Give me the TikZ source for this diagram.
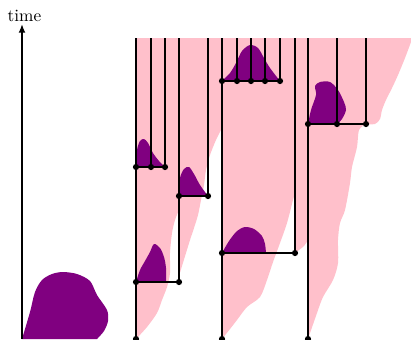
\documentclass[tikz,border=0pt]{standalone}
\usetikzlibrary{arrows.meta}
\definecolor{blobpurple}{HTML}{800080}
\definecolor{fanpink}{HTML}{FFC0CB}
\begin{document}
\begin{tikzpicture}[x=0.58pt,y=-0.58pt,
  lin/.style={line width=0.6pt, black},
  axisline/.style={line width=1pt, black, -{Latex[length=5pt,width=4pt]}},
  dot/.style={circle, fill=black, inner sep=0pt, minimum size=3.6pt},
  fan/.style={fill=fanpink, draw=none},
  blob/.style={fill=blobpurple, draw=none}]
\useasboundingbox (0,0) rectangle (411,339);

% pink fans
\fill[fan] (136,339) -- plot[smooth] coordinates {(136,339)(147,327)(157,313)(162,300)(167,287)(170,273)(170,253)(172,233)(175,220)(179,210)} -- (179,38) -- (136,38) -- cycle;
\fill[fan] (179,276) -- plot[smooth] coordinates {(179,276)(182,266)(186,253)(190,240)(194,228)(198,215)(201,200)(204,185)(206,170)(210,155)(216,140)(222,128)} -- (222,38) -- (179,38) -- cycle;
\fill[fan] (222,339) -- plot[smooth] coordinates {(222,339)(230,329)(237,320)(247,307)(260,297)(267,280)(273,262)(280,243)(287,223)(293,200)(296,190)} -- (296,38) -- (222,38) -- cycle;
\fill[fan] (295,253) -- plot[smooth] coordinates {(295,253)(299,250)(304,246)(308,240)} -- (308,38) -- (295,38) -- cycle;
\fill[fan] (308,339) -- plot[smooth] coordinates {(308,339)(317,313)(323,297)(333,280)(338,263)(338,240)(340,223)(345,210)(350,183)(352,167)(357,147)(359,130)(366,124)} -- (366,38) -- (308,38) -- cycle;
\fill[fan] (366,124) -- plot[smooth] coordinates {(366,124)(375,124)(380,119)(382,110)(386,100)(392,88)(398,75)(405,58)(411,42)} -- (411,38) -- (366,38) -- cycle;

% purple blobs
\fill[blob] (22,339) -- plot[smooth] coordinates {(22,339)(30,312)(35,292)(42,280)(52,274)(63,272)(77,274)(90,281)(97,295)(107,310)(108,321)(104,331)(97,339)} -- cycle;
\fill[blob] (136,282) -- plot[smooth] coordinates {(136,282)(140,270)(145,261)(150,252)(154,244)(160,248)(164,257)(166,268)(166,282)} -- cycle;
\fill[blob] (136,167) -- plot[smooth] coordinates {(136,167)(137,150)(140,141)(144,139)(148,143)(153,153)(159,161)(165,167)} -- cycle;
\fill[blob] (179,196) -- plot[smooth] coordinates {(179,196)(180,178)(184,169)(189,167)(194,174)(200,185)(208,196)} -- cycle;
\fill[blob] (222,253) -- plot[smooth] coordinates {(222,253)(229,241)(237,231)(245,227)(254,229)(262,236)(265,244)(266,253)} -- cycle;
\fill[blob] (222,81) -- plot[smooth] coordinates {(222,81)(230,73)(236,63)(242,51)(250,45)(258,48)(264,58)(270,68)(280,81)} -- cycle;
\fill[blob] (308,124) -- plot[smooth] coordinates {(308,124)(311,110)(316,95)(315,86)(320,82)(330,82)(338,90)(344,102)(346,110)(342,119)(337,124)} -- cycle;

% time axis
\coordinate (ax0) at (22,339);
\coordinate (ax1) at (22,24);
\draw[axisline] (ax0) -- (ax1);
\node (timelbl) at (24.5,15.5) {time};

% dots
\node[dot] (nA) at (136,339) {};
\node[dot] (nB) at (222,339) {};
\node[dot] (nC) at (308,339) {};
\node[dot] (nA1) at (136,282) {};
\node[dot] (nA1r) at (179,282) {};
\node[dot] (nA2) at (136,167) {};
\node[dot] (nA2m) at (151,167) {};
\node[dot] (nA2r) at (165,167) {};
\node[dot] (nA3) at (179,196) {};
\node[dot] (nA3r) at (208,196) {};
\node[dot] (nB1) at (222,253) {};
\node[dot] (nB1r) at (295,253) {};
\node[dot] (nB2) at (222,81) {};
\node[dot] (nB2a) at (237,81) {};
\node[dot] (nB2b) at (251,81) {};
\node[dot] (nB2c) at (265,81) {};
\node[dot] (nB2d) at (280,81) {};
\node[dot] (nC1) at (308,124) {};
\node[dot] (nC1m) at (337,124) {};
\node[dot] (nC1r) at (366,124) {};

% top ends
\foreach \x in {136,151,165,179,208,222,237,251,265,280,295,308,337,366}
  \coordinate (t\x) at (\x,38);

% vertical lineages
\draw[lin] (nA) -- (nA1) -- (nA2) -- (t136);
\draw[lin] (nA2m) -- (t151);
\draw[lin] (nA2r) -- (t165);
\draw[lin] (nA1r) -- (nA3) -- (t179);
\draw[lin] (nA3r) -- (t208);
\draw[lin] (nB) -- (nB1) -- (nB2) -- (t222);
\draw[lin] (nB2a) -- (t237);
\draw[lin] (nB2b) -- (t251);
\draw[lin] (nB2c) -- (t265);
\draw[lin] (nB2d) -- (t280);
\draw[lin] (nB1r) -- (t295);
\draw[lin] (nC) -- (nC1) -- (t308);
\draw[lin] (nC1m) -- (t337);
\draw[lin] (nC1r) -- (t366);

% horizontal links
\draw[lin] (nA1) -- (nA1r);
\draw[lin] (nA2) -- (nA2m) -- (nA2r);
\draw[lin] (nA3) -- (nA3r);
\draw[lin] (nB1) -- (nB1r);
\draw[lin] (nB2) -- (nB2a) -- (nB2b) -- (nB2c) -- (nB2d);
\draw[lin] (nC1) -- (nC1m) -- (nC1r);
\end{tikzpicture}
\end{document}
